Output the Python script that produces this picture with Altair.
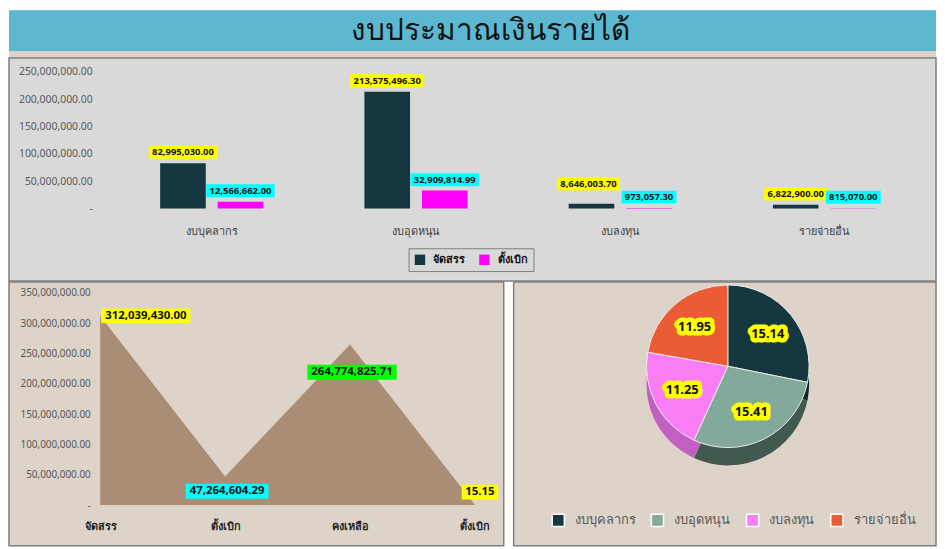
import json
import altair as alt
import pandas as pd

# ---------------- data ----------------
title_text = "งบประมาณเงินรายได้"

categories = ["งบบุคลากร", "งบอุดหนุน", "งบลงทุน", "รายจ่ายอื่น"]
series_names = ["จัดสรร", "ตั้งเบิก"]
allocated = [82995030.00, 213575496.30, 8646003.70, 6822900.00]
disbursed = [12566662.00, 32909814.99, 973057.30, 815070.00]
bar_ticks = [0, 50000000, 100000000, 150000000, 200000000, 250000000]

flow_names = ["จัดสรร", "ตั้งเบิก", "คงเหลือ", "ตั้งเบิก"]
flow_values = [312039430.00, 47264604.29, 264774825.71, 15.15]
flow_ticks = [0, 50000000, 100000000, 150000000, 200000000, 250000000, 300000000, 350000000]

share_values = [15.14, 15.41, 11.25, 11.95]

# ---------------- styles ----------------
FONT = "Noto Sans"
DARK = "#15373f"
MAGENTA = "#ff00ff"
YELLOW = "#ffff00"
CYAN = "#00ffff"
GREEN = "#00ff00"
TITLE_BG = "#5bb8d0"
TOP_BG = "#d9d9d9"
BOTTOM_BG = "#ddd3c9"
BORDER = "#7f7f7f"
AREA = "#a98d75"
PIE_COLORS = [DARK, "#82a999", "#f97ef6", "#eb5b35"]
PIE_SIDE = ["#0d252b", "#42594f", "#c35ec2", "#a53d22"]


def text_width(s, size):
    return sum(0.58 * size if ch.isdigit() else 0.28 * size for ch in s)


def rect_path(w, h, cx, cy):
    x1, x2, y1, y2 = cx - w / 2, cx + w / 2, cy - h / 2, cy + h / 2
    return f"M{x1:.1f},{y1:.1f}H{x2:.1f}V{y2:.1f}H{x1:.1f}Z"


one = pd.DataFrame({"k": [0]})


def deco_rect(x1, x2, y1, y2, fill, stroke=None, sw=0):
    kw = dict(fill=fill)
    if stroke:
        kw.update(stroke=stroke, strokeWidth=sw)
    return alt.Chart(one).mark_rect(**kw).encode(
        x=alt.value(x1), x2=alt.value(x2), y=alt.value(y1), y2=alt.value(y2)
    )


# ---------------- top: grouped bars ----------------
rows = []
for i, c in enumerate(categories):
    for s, vals in zip(series_names, [allocated, disbursed]):
        rows.append(dict(category=c, series=s, value=vals[i], label=f"{vals[i]:,.2f}"))
bar_df = pd.DataFrame(rows)

# label offsets (dx, dy) above bar tops; one label is moved to avoid its neighbour
BAR_LABEL_SIZE = 9.5
DEFAULT_OFFSET = (0, -11)
special_offsets = {("งบลงทุน", "จัดสรร"): (-3, -20)}
bar_df["box"] = [
    rect_path(text_width(l, BAR_LABEL_SIZE) + 6, 13,
              *special_offsets.get((c, s), DEFAULT_OFFSET))
    for l, c, s in zip(bar_df["label"], bar_df["category"], bar_df["series"])
]

num_label_expr = "datum.value == 0 ? '-' : format(datum.value, ',.2f')"

bx = alt.X(
    "category:N", sort=categories,
    scale=alt.Scale(paddingInner=0.495, paddingOuter=0.2935),
    axis=alt.Axis(title=None, ticks=False, domain=False, labelAngle=0, labelPadding=17,
                  labelColor="#404040", labelFontSize=11, zindex=1),
)
bxo = alt.XOffset("series:N", sort=series_names, scale=alt.Scale(paddingInner=0.207, paddingOuter=0))
by = alt.Y(
    "value:Q", scale=alt.Scale(domain=[0, 250000000], nice=False),
    axis=alt.Axis(title=None, values=bar_ticks, labelExpr=num_label_expr, ticks=False, domain=False,
                  grid=False, labelColor="#595959", labelFontSize=10.5, labelPadding=8, zindex=1),
)

W_TOP, H_TOP = 843, 138
title_bar = deco_rect(-92, 843, -62, -21, TITLE_BG)
strip = deco_rect(-92, 843, -21, -14, BOTTOM_BG)
top_panel = deco_rect(-92, 843, -14, 211, TOP_BG, BORDER, 1.5)
title = alt.Chart(one).mark_text(
    text=title_text, fontSize=30, color="#111111", align="center", baseline="middle"
).encode(x=alt.value(394), y=alt.value(-41))

bars = alt.Chart(bar_df).mark_bar().encode(
    x=bx, xOffset=bxo, y=by,
    color=alt.Color(
        "series:N", scale=alt.Scale(domain=series_names, range=[DARK, MAGENTA]),
        legend=alt.Legend(orient="none", legendX=311, legendY=178, direction="horizontal", title=None,
                          symbolType="square", symbolSize=110, symbolStrokeWidth=0,
                          labelFontSize=11, labelFontWeight="bold", labelColor="#111111",
                          strokeColor=BORDER, fillColor=TOP_BG, padding=6, columnPadding=14,
                          labelOffset=8),
    ),
)
bar_boxes = alt.Chart(bar_df).mark_point(filled=True, opacity=1, size=4, strokeWidth=0).encode(
    x=bx, xOffset=bxo, y=by,
    shape=alt.Shape("box:N", scale=None, legend=None),
    fill=alt.Fill("series:N", scale=alt.Scale(domain=series_names, range=[YELLOW, CYAN]), legend=None),
)

special_test = " || ".join(
    f"(datum.category == '{c}' && datum.series == '{s}')" for (c, s) in special_offsets
)
bar_label_layers = [
    alt.Chart(bar_df).transform_filter(f"!({special_test})").mark_text(
        dx=DEFAULT_OFFSET[0], dy=DEFAULT_OFFSET[1], fontSize=BAR_LABEL_SIZE, fontWeight="bold",
        color="#111111", baseline="middle"
    ).encode(x=bx, xOffset=bxo, y=by, text="label:N")
]
for (c, s), (dx, dy) in special_offsets.items():
    bar_label_layers.append(
        alt.Chart(bar_df).transform_filter(f"datum.category == '{c}' && datum.series == '{s}'").mark_text(
            dx=dx, dy=dy, fontSize=BAR_LABEL_SIZE, fontWeight="bold", color="#111111", baseline="middle"
        ).encode(x=bx, xOffset=bxo, y=by, text="label:N")
    )

top = alt.layer(title_bar, strip, top_panel, title, bars, bar_boxes, *bar_label_layers).properties(
    width=W_TOP, height=H_TOP
).resolve_scale(color="independent", fill="independent")

# ---------------- bottom left: area ----------------
flow_df = pd.DataFrame({
    "idx": list(range(len(flow_values))),
    "value": flow_values,
    "label": [f"{v:,.2f}" for v in flow_values],
})
W_AREA, H_AREA = 378, 214
ax = alt.X(
    "idx:O", scale=alt.Scale(type="point", padding=0),
    axis=alt.Axis(title=None, ticks=False, domain=False, labelAngle=0, labelPadding=16,
                  labelExpr=f"{json.dumps(flow_names, ensure_ascii=False)}[datum.value]",
                  labelColor="#262626", labelFontSize=11, labelFontWeight="bold", zindex=1),
)
ay = alt.Y(
    "value:Q", scale=alt.Scale(domain=[0, 350000000], nice=False),
    axis=alt.Axis(title=None, values=flow_ticks, labelExpr=num_label_expr, ticks=False, domain=False,
                  grid=False, labelColor="#595959", labelFontSize=10, labelPadding=10, zindex=1),
)
area_panel = deco_rect(-92, 407, -11, 255, BOTTOM_BG, BORDER, 1.5)
area = alt.Chart(flow_df).mark_area(color=AREA, opacity=1).encode(x=ax, y=ay)

# label placement style per point: (background, dx, dy)
flow_label_style = [(YELLOW, 46, 0), (CYAN, 2, 15), (GREEN, 2, 28), (YELLOW, 5, -13)]
AREA_LABEL_SIZE = 11.5
area_label_layers = []
for i, (bg, dx, dy) in enumerate(flow_label_style):
    lab = flow_df["label"][i]
    w = text_width(lab, AREA_LABEL_SIZE) + 7
    base = alt.Chart(flow_df).transform_filter(f"datum.idx == {i}")
    area_label_layers.append(
        base.mark_point(shape=rect_path(w, 15, dx, dy), size=4, filled=True, opacity=1,
                        strokeWidth=0, fill=bg).encode(x=ax, y=ay)
    )
    area_label_layers.append(
        base.mark_text(dx=dx, dy=dy, fontSize=AREA_LABEL_SIZE, fontWeight="bold", color="#111111",
                       baseline="middle", align="center").encode(x=ax, y=ay, text="label:N")
    )

area_chart = alt.layer(area_panel, area, *area_label_layers).properties(width=W_AREA, height=H_AREA)

# ---------------- bottom right: pie ----------------
pie_df = pd.DataFrame({
    "category": categories,
    "value": share_values,
    "ord": list(range(len(categories))),
    "label": [f"{v:.2f}" for v in share_values],
})
W_PIE, H_PIE = 426, 214
CX, CY, R, DEPTH = 216, 74, 82, 18
theta = alt.Theta("value:Q", stack=True)
order = alt.Order("ord:Q", sort="ascending")

pie_panel = deco_rect(0, 426, -11, 255, BOTTOM_BG, BORDER, 1.5)
pie_side = alt.Chart(pie_df).mark_arc(radius=R).encode(
    theta=theta, order=order,
    fill=alt.Fill("category:N", scale=alt.Scale(domain=categories, range=PIE_SIDE), legend=None),
    x=alt.value(CX), y=alt.value(CY + DEPTH),
)
pie_top = alt.Chart(pie_df).mark_arc(radius=R, stroke="#eeeeee", strokeWidth=1).encode(
    theta=theta, order=order,
    color=alt.Color(
        "category:N", scale=alt.Scale(domain=categories, range=PIE_COLORS),
        legend=alt.Legend(orient="none", legendX=38, legendY=222, direction="horizontal", title=None,
                          symbolType="square", symbolSize=150, symbolStrokeColor="white",
                          symbolStrokeWidth=1.5, labelColor="#595959", labelFontSize=13,
                          columnPadding=12, labelOffset=10),
    ),
    x=alt.value(CX), y=alt.value(CY),
)
pie_halo = alt.Chart(pie_df).mark_text(
    radius=52, fontSize=13, fontWeight="bold", color=YELLOW, stroke=YELLOW, strokeWidth=9,
    strokeJoin="round", baseline="middle"
).encode(theta=theta, order=order, detail="category:N", text="label:N", x=alt.value(CX), y=alt.value(CY))
pie_text = alt.Chart(pie_df).mark_text(
    radius=52, fontSize=13, fontWeight="bold", color="#111111", baseline="middle"
).encode(theta=theta, order=order, detail="category:N", text="label:N", x=alt.value(CX), y=alt.value(CY))

pie_chart = alt.layer(pie_panel, pie_side, pie_top, pie_halo, pie_text).properties(
    width=W_PIE, height=H_PIE
).resolve_scale(color="independent", fill="independent")

bottom = alt.hconcat(area_chart, pie_chart, spacing=39, bounds="flush").resolve_scale(
    color="independent", fill="independent", shape="independent"
)

chart = (
    alt.vconcat(top, bottom, spacing=85, bounds="flush")
    .resolve_scale(color="independent", fill="independent", shape="independent")
    .properties(padding=0, background="white")
    .configure(font=FONT)
    .configure_view(stroke=None)
)

chart.save("out.html", embed_options={"renderer": "svg", "actions": False})
